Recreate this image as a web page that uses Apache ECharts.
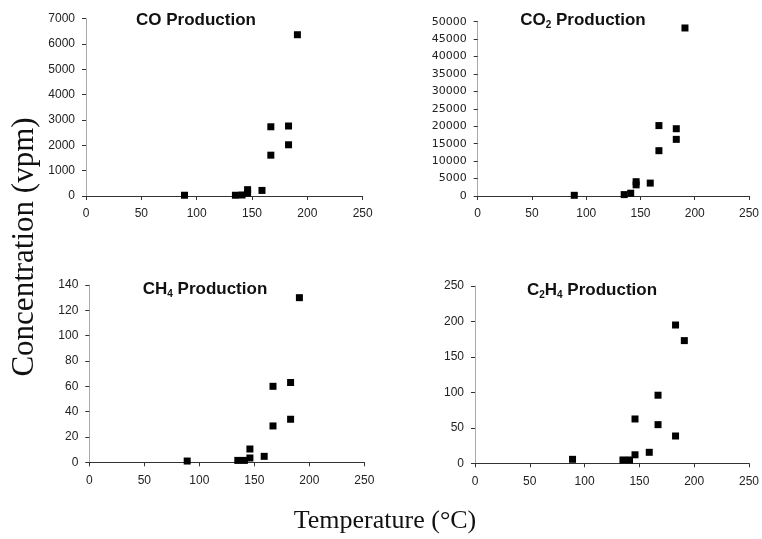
<!DOCTYPE html>
<html><head><meta charset="utf-8">
<script src="https://cdn.jsdelivr.net/npm/echarts@6/dist/echarts.min.js"></script>
<style>html,body{margin:0;padding:0;background:#fff}#c{width:762px;height:539px}</style>
</head><body><div id="c"></div>
<script>
const temps = [89, 135, 141, 146, 146, 159, 167, 167, 183, 183, 191];
const coVals = [30, 30, 40, 250, 120, 220, 2730, 1610, 2760, 2020, 6360];
const co2Vals = [200, 400, 800, 4100, 3200, 3700, 20200, 13000, 19300, 16250, 48200];
const ch4Vals = [1, 1.5, 1.5, 10.5, 3.4, 4.7, 60, 28.7, 63, 34, 130];
const c2h4Vals = [5.6, 4.7, 4.7, 62.5, 12, 15.5, 96, 54.5, 195, 38.5, 173];
const xTicks = {min: 0, max: 250, interval: 50};
const yTicks = [
  {min: 0, max: 7000, interval: 1000},
  {min: 0, max: 50000, interval: 5000},
  {min: 0, max: 140, interval: 20},
  {min: 0, max: 250, interval: 50}
];
const titles = [
  '{a|CO Production}',
  '{a|CO}{s|2}{a| Production}',
  '{a|CH}{s|4}{a| Production}',
  '{a|C}{s|2}{a|H}{s|4}{a| Production}'
];
const seriesVals = [coVals, co2Vals, ch4Vals, c2h4Vals];

const grids = [
  {left: 86, top: 18.5, width: 276.7, height: 177.5},
  {left: 477.7, top: 21.7, width: 273, height: 174.3},
  {left: 89.3, top: 285, width: 275, height: 177.3},
  {left: 475, top: 286, width: 276.7, height: 177.3}
];
const titlePos = [[196, 10], [583, 10], [205, 279], [592, 280]];

const chart = echarts.init(document.getElementById('c'));
const richStyle = {
  a: {fontFamily: 'Liberation Sans', fontWeight: 'bold', fontSize: 17, color: '#111', lineHeight: 20, verticalAlign: 'middle'},
  s: {fontFamily: 'Liberation Sans', fontWeight: 'bold', fontSize: 10, color: '#111', lineHeight: 10, verticalAlign: 'bottom'}
};
const tickFont = {fontFamily: 'Liberation Sans', fontSize: 12, color: '#222', formatter: v => String(v)};

chart.setOption({
  animation: false,
  backgroundColor: '#fff',
  title: titles.map((t, i) => ({
    text: t, left: titlePos[i][0], top: titlePos[i][1], textAlign: 'center', padding: 0,
    textStyle: {rich: richStyle}
  })),
  grid: grids.map(g => Object.assign({containLabel: false}, g)),
  xAxis: grids.map((g, i) => ({
    type: 'value', gridIndex: i, min: xTicks.min, max: xTicks.max, interval: xTicks.interval,
    splitLine: {show: false},
    axisLine: {show: true, onZero: false, lineStyle: {color: '#333', width: 1}},
    axisTick: {show: true, inside: false, length: 4, lineStyle: {color: '#333'}},
    axisLabel: Object.assign({margin: 12}, tickFont)
  })),
  yAxis: grids.map((g, i) => ({
    type: 'value', gridIndex: i, min: yTicks[i].min, max: yTicks[i].max, interval: yTicks[i].interval,
    splitLine: {show: false},
    axisLine: {show: true, onZero: false, lineStyle: {color: '#aaa', width: 1}},
    axisTick: {show: true, length: 4, lineStyle: {color: '#333'}},
    axisLabel: Object.assign({margin: 11}, tickFont,
      i === 1 ? {fontFamily: 'DejaVu Sans', fontSize: 11} : {})
  })),
  series: seriesVals.map((vals, i) => ({
    type: 'scatter', xAxisIndex: i, yAxisIndex: i,
    symbol: 'rect', symbolSize: 7,
    itemStyle: {color: '#000', opacity: 1},
    data: temps.map((t, k) => [t, vals[k]])
  })),
  graphic: [
    {type: 'text', x: 25, y: 247, rotation: Math.PI / 2,
      style: {text: 'Concentration (vpm)', fontFamily: 'Liberation Serif', fontSize: 31, fill: '#111', align: 'center', verticalAlign: 'middle'}},
    {type: 'text', x: 385, y: 521,
      style: {text: 'Temperature (°C)', fontFamily: 'Liberation Serif', fontSize: 26, fill: '#111', align: 'center', verticalAlign: 'middle'}}
  ]
});
</script>
</body></html>
